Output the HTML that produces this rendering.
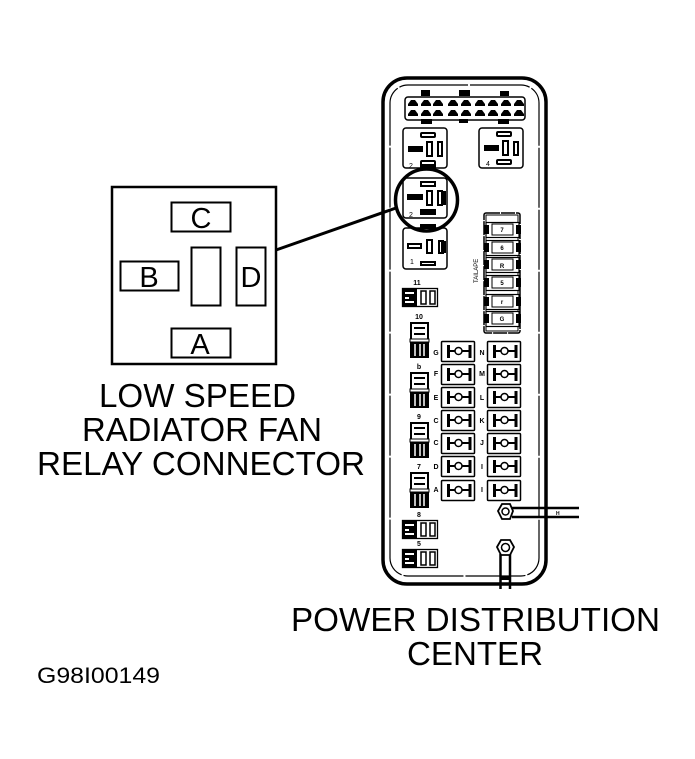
<!DOCTYPE html>
<html><head><meta charset="utf-8"><style>html,body{margin:0;padding:0;background:#fff}svg{display:block}text{font-family:"Liberation Sans",sans-serif;fill:#000}</style></head><body>
<svg width="695" height="759" viewBox="0 0 695 759" xmlns="http://www.w3.org/2000/svg">
<defs>
<g id="f"><rect x="0.500" y="0.500" width="33" height="20" fill="#fff" stroke="#000" stroke-width="1.500" rx="1"/><path d="M7.500 4V17M29 4V17" stroke="#000" stroke-width="3"/><path d="M7 10H29" stroke="#000" stroke-width="2"/><circle cx="17.500" cy="10" r="3.500" fill="#fff" stroke="#000" stroke-width="1.500"/></g>
<g id="m"><rect x="2" y="0.500" width="33" height="15" fill="#fff" stroke="#000" stroke-width="1.200"/><rect x="0" y="3" width="5" height="9" fill="#000"/><rect x="32" y="3" width="5" height="9" fill="#000"/><rect x="8" y="2" width="21" height="11" fill="#fff" stroke="#000"/></g>
<g id="h"><rect x="0.500" y="0.500" width="35" height="18" fill="#fff" stroke="#000" stroke-width="1.300"/><rect x="0" y="0" width="15" height="19" fill="#000"/><path d="M3 5H12M3 10H7M3 14H12" stroke="#fff" stroke-width="2"/><rect x="19" y="3" width="5" height="13" fill="#fff" stroke="#000" stroke-width="1.500"/><rect x="28" y="3" width="5" height="13" fill="#fff" stroke="#000" stroke-width="1.500"/></g>
<g id="v"><rect x="0" y="0" width="19" height="36" fill="#000"/><rect x="2" y="2" width="15" height="15" fill="#fff"/><path d="M4 6H15M4 12H15" stroke="#000" stroke-width="2"/><rect x="0" y="17" width="19" height="3" fill="#fff" stroke="#000"/><path d="M5 22V34M10 22V34M14 22V34" stroke="#fff" stroke-width="1.500"/></g>
<path id="p" d="M3 0h4l3 4v2h-10v-2z" fill="#000"/>
</defs>
<g fill="none" stroke="#000">
<rect x="383" y="78" width="163" height="506" rx="24" stroke-width="3.500"/>
<rect x="390" y="85" width="149" height="491" rx="18" stroke-width="1.200" stroke-dasharray="60 2"/>
<rect x="405" y="97" width="120" height="23" rx="3" stroke-width="1.500"/>
</g>
<g fill="#000">
<rect x="421" y="90" width="9" height="6"/><rect x="459" y="90" width="11" height="6"/><rect x="500" y="91" width="9" height="5"/>
<rect x="421" y="119" width="11" height="5"/><rect x="459" y="119" width="9" height="4"/><rect x="498" y="119" width="11" height="5"/>
</g>
<use href="#p" x="408" y="100"/><use href="#p" x="421" y="100"/><use href="#p" x="433" y="100"/><use href="#p" x="448" y="100"/><use href="#p" x="461" y="100"/><use href="#p" x="475" y="100"/><use href="#p" x="488" y="100"/><use href="#p" x="501" y="100"/><use href="#p" x="514" y="100"/>
<use href="#p" x="408" y="110"/><use href="#p" x="421" y="110"/><use href="#p" x="433" y="110"/><use href="#p" x="448" y="110"/><use href="#p" x="461" y="110"/><use href="#p" x="475" y="110"/><use href="#p" x="488" y="110"/><use href="#p" x="501" y="110"/><use href="#p" x="514" y="110"/>
<g fill="none" stroke="#000" stroke-width="1.500">
<rect x="403" y="128" width="44" height="40" rx="3"/>
<rect x="479" y="128" width="44" height="40" rx="3"/>
<rect x="403" y="178" width="44" height="40" rx="3"/>
<rect x="403" y="228" width="44" height="41" rx="3"/>
</g>
<g fill="#fff" stroke="#000" stroke-width="2">
<rect x="421" y="133" width="14" height="4" rx="1"/><rect x="427" y="142" width="5" height="14"/><rect x="438" y="142" width="4" height="14"/><rect x="409" y="147" width="13" height="4" fill="#000"/><rect x="421" y="161" width="14" height="5" rx="1"/>
<rect x="497" y="132" width="14" height="4" rx="1"/><rect x="503" y="141" width="5" height="14"/><rect x="514" y="142" width="4" height="13"/><rect x="485" y="146" width="13" height="4" fill="#000"/><rect x="497" y="160" width="14" height="4" rx="1"/>
<rect x="421" y="182" width="14" height="4"/><rect x="427" y="191" width="5" height="14"/><rect x="438" y="191" width="4" height="14"/><rect x="408" y="195" width="14" height="4" fill="#000"/><rect x="421" y="210" width="14" height="4"/>
<rect x="421" y="262" width="14" height="3"/><rect x="427" y="240" width="5" height="13"/><rect x="439" y="241" width="4" height="12"/><rect x="408" y="244" width="13" height="4"/>
</g>
<g fill="#000"><path d="M441 191h5v14h-5zM420 211h16v4h-16zM420 164h16v4h-16zM420 229h16v-5h-16zM441 241h5v12h-5z"/></g>
<text x="409" y="168" font-size="7">2</text><text x="486" y="166" font-size="7">4</text><text x="409" y="217" font-size="7">2</text><text x="410" y="264" font-size="7">1</text>
<circle cx="426.500" cy="200" r="31" fill="none" stroke="#000" stroke-width="3.500"/>
<path d="M276 250L396 208" stroke="#000" stroke-width="3"/>
<rect x="484" y="213" width="36" height="120" rx="2" fill="none" stroke="#000" stroke-width="1.500" stroke-dasharray="14 1"/>
<rect x="486" y="215" width="32" height="116" fill="none" stroke="#000" stroke-width="1"/>
<use href="#m" x="484" y="222"/><use href="#m" x="484" y="240"/><use href="#m" x="484" y="257"/><use href="#m" x="484" y="275"/><use href="#m" x="484" y="294"/><use href="#m" x="484" y="311"/>
<g font-size="6" text-anchor="middle" font-weight="bold"><text x="502" y="232">7</text><text x="502" y="250">6</text><text x="502" y="268">R</text><text x="502" y="285">5</text><text x="502" y="304">r</text><text x="502" y="321">G</text></g>
<text x="0" y="0" font-size="6" transform="translate(478 283) rotate(-90)">TAILAPE</text>
<use href="#f" x="441" y="341"/><use href="#f" x="441" y="364"/><use href="#f" x="441" y="387"/><use href="#f" x="441" y="410"/><use href="#f" x="441" y="433"/><use href="#f" x="441" y="456"/><use href="#f" x="441" y="480"/>
<use href="#f" x="487" y="341"/><use href="#f" x="487" y="364"/><use href="#f" x="487" y="387"/><use href="#f" x="487" y="410"/><use href="#f" x="487" y="433"/><use href="#f" x="487" y="456"/><use href="#f" x="487" y="480"/>
<g font-size="7" font-weight="bold" text-anchor="middle">
<text x="436" y="355">G</text><text x="436" y="376">F</text><text x="436" y="400">E</text><text x="436" y="423">C</text><text x="436" y="445">C</text><text x="436" y="469">D</text><text x="436" y="492">A</text>
<text x="482" y="355">N</text><text x="482" y="376">M</text><text x="482" y="400">L</text><text x="482" y="423">K</text><text x="482" y="445">J</text><text x="482" y="469">I</text><text x="482" y="492">I</text>
<text x="417" y="285">11</text><text x="419" y="319">10</text><text x="419" y="369">b</text><text x="419" y="419">9</text><text x="419" y="469">7</text><text x="419" y="517">8</text><text x="419" y="546">5</text>
</g>
<use href="#h" x="402" y="288"/><use href="#h" x="402" y="520"/><use href="#h" x="402" y="549"/>
<use href="#v" x="410" y="322"/><use href="#v" x="410" y="372"/><use href="#v" x="410" y="422"/><use href="#v" x="410" y="472"/>
<path d="M512 508H579M512 517H579" stroke="#000" stroke-width="2.500"/>
<text x="556" y="515" font-size="5" font-weight="bold">H</text>
<polygon points="498,511 502,504 510,504 513,511 510,519 502,519" fill="#fff" stroke="#000" stroke-width="1.800"/><circle cx="505.500" cy="511.500" r="3.500" fill="#fff" stroke="#000" stroke-width="1.500"/>
<path d="M500.500 554V589M510 554V589" stroke="#000" stroke-width="2.500"/>
<polygon points="497,547 501,540 510,540 514,547 510,555 501,555" fill="#fff" stroke="#000" stroke-width="1.800"/><circle cx="505.500" cy="547.500" r="4" fill="#fff" stroke="#000" stroke-width="1.500"/>
<rect x="500" y="576" width="10" height="4" fill="#000"/>
<g fill="none" stroke="#000" stroke-width="2">
<rect x="112" y="187" width="164" height="177" stroke-width="2.500"/>
<rect x="171.500" y="202.500" width="59" height="29"/>
<rect x="120.500" y="261.500" width="58" height="29"/>
<rect x="191.500" y="247.500" width="29" height="58"/>
<rect x="236.500" y="247.500" width="29" height="58"/>
<rect x="171.500" y="328.500" width="59" height="29"/>
</g>
<g font-size="29" text-anchor="middle"><text x="201" y="228">C</text><text x="149" y="287">B</text><text x="251" y="287">D</text><text x="200" y="354">A</text></g>
<g font-size="33">
<text x="99" y="407" textLength="197" lengthAdjust="spacingAndGlyphs">LOW SPEED</text>
<text x="82" y="441" textLength="240" lengthAdjust="spacingAndGlyphs">RADIATOR FAN</text>
<text x="37" y="475" textLength="328" lengthAdjust="spacingAndGlyphs">RELAY CONNECTOR</text>
<text x="291" y="631" textLength="369" lengthAdjust="spacingAndGlyphs">POWER DISTRIBUTION</text>
<text x="407" y="665" textLength="136" lengthAdjust="spacingAndGlyphs">CENTER</text>
</g>
<text x="37" y="683" font-size="22" textLength="123" lengthAdjust="spacingAndGlyphs">G98I00149</text>
</svg>
</body></html>
